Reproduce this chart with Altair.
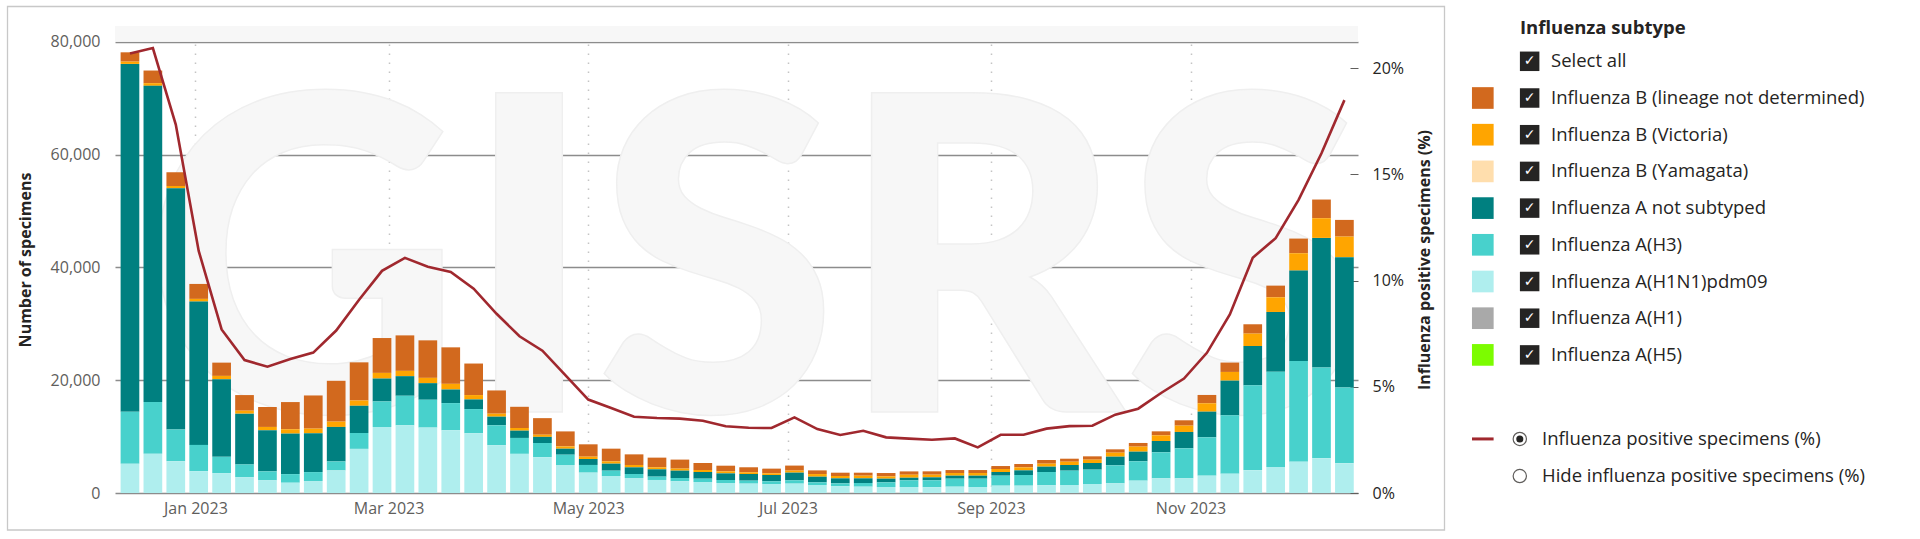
import altair as alt
import pandas as pd

# ---------------- data ----------------
weeks = pd.date_range("2022-12-12", periods=54, freq="7D").strftime("%Y-%m-%d").tolist()

subtypes = [
    "Influenza B (lineage not determined)",
    "Influenza B (Victoria)",
    "Influenza B (Yamagata)",
    "Influenza A not subtyped",
    "Influenza A(H3)",
    "Influenza A(H1N1)pdm09",
    "Influenza A(H1)",
    "Influenza A(H5)",
]
colors = ["#D2691E", "#FFA500", "#FFDEAD", "#008080", "#48D1CC", "#AFEEEE", "#A9A9A9", "#7CFC00"]

b_not_determined = [1650, 2240, 2470, 2650, 2350, 2770, 3530, 4820, 5880, 7240,
                    6760, 6180, 6290, 6650, 6470, 5590, 4120, 3760, 2940, 2660,
                    2190, 2250, 1890, 1710, 1600, 1240, 1000, 890, 830, 890,
                    650, 590, 530, 590, 590, 590, 530, 530, 530, 590,
                    650, 530, 590, 590, 650, 710, 950, 1480, 1660, 1660,
                    2070, 2600, 3310, 2960]
b_victoria = [410, 470, 410, 470, 590, 530, 590, 770, 820, 940,
              940, 1000, 940, 940, 1000, 770, 530, 470, 380, 410,
              410, 410, 410, 360, 360, 360, 360, 300, 300, 360,
              470, 410, 470, 410, 530, 470, 470, 470, 530, 530,
              530, 590, 590, 710, 890, 1000, 1120, 1480, 1540, 2190,
              2600, 3070, 3490, 3660]
b_yamagata = [0] * 54
a_not_subtyped = [61640, 56060, 42760, 25410, 13760, 9000, 7290, 7180, 6880, 6120,
                  4820, 4060, 3470, 2940, 2410, 1710, 1530, 1290, 1090, 1060,
                  1060, 1240, 1180, 1300, 1300, 1180, 1180, 1180, 1120, 1360,
                  1000, 890, 830, 650, 470, 530, 530, 530, 650, 830,
                  950, 1000, 1180, 1540, 1710, 2010, 2900, 4550, 6150, 6970,
                  10580, 16020, 22990, 23110]
a_h3 = [9240, 9180, 5590, 4650, 2880, 2240, 1590, 1530, 1590, 1590,
        2820, 4530, 5240, 4940, 4820, 4290, 3530, 2820, 2500, 1830,
        1360, 950, 710, 590, 590, 590, 530, 530, 470, 590,
        470, 530, 650, 830, 1180, 1240, 1420, 1480, 1770, 1890,
        2360, 2540, 2540, 3190, 3430, 4610, 5320, 6800, 10340, 15070,
        16900, 17850, 16080, 13420]
a_h1n1pdm09 = [5180, 6940, 5650, 3880, 3530, 2820, 2240, 1820, 2120, 4000,
               7820, 11700, 12000, 11590, 11120, 10590, 8470, 6940, 6360, 4960,
               3610, 3010, 2660, 2310, 2070, 1950, 1770, 1660, 1600, 1660,
               1420, 1180, 1120, 1060, 1060, 1010, 1120, 1060, 1300, 1300,
               1360, 1420, 1600, 1710, 2190, 2600, 2600, 3070, 3430, 4020,
               4610, 5560, 6150, 5260]
a_h1 = [0] * 54
a_h5 = [0] * 54

positivity = [20.7, 20.95, 17.35, 11.4, 7.7, 6.26, 5.95, 6.31, 6.61, 7.65,
              9.1, 10.46, 11.07, 10.65, 10.41, 9.62, 8.44, 7.38, 6.7, 5.55,
              4.4, 4.0, 3.59, 3.53, 3.5, 3.4, 3.14, 3.07, 3.06, 3.56,
              3.01, 2.73, 2.93, 2.62, 2.56, 2.51, 2.57, 2.15, 2.74, 2.74,
              3.03, 3.15, 3.17, 3.69, 3.97, 4.71, 5.39, 6.6, 8.41, 11.08,
              12.0, 13.8, 16.0, 18.5]

series = [b_not_determined, b_victoria, b_yamagata, a_not_subtyped, a_h3, a_h1n1pdm09, a_h1, a_h5]

radio_labels = ["Influenza positive specimens (%)", "Hide influenza positive specimens (%)"]

# ---------------- tables ----------------
rows = []
for i, (name, vals) in enumerate(zip(subtypes, series)):
    for w, v in zip(weeks, vals):
        rows.append({"week": w, "subtype": name, "count": v, "stack": len(subtypes) - i})
bars_df = pd.DataFrame(rows)
line_df = pd.DataFrame({"week": weeks, "pct": positivity})

# ---------------- style ----------------
FONT = "Open Sans"
W, H = 1243, 467
YMAX = 82783
PMAX = 21.99
LINE_COLOR = "#a0282e"
TEXT_DARK = "#252423"
TEXT_GRAY = "#605e5c"

x_enc = alt.X(
    "week:T",
    scale=alt.Scale(
        type="utc",
        domain=[alt.DateTime(year=2022, month=12, date=8, hours=23, utc=True),
                alt.DateTime(year=2023, month=12, date=20, hours=15, utc=True)],
    ),
    axis=alt.Axis(
        values=[alt.DateTime(year=2023, month=m, date=1, utc=True) for m in (1, 3, 5, 7, 9, 11)],
        format="%b %Y", title=None, domain=False, ticks=False,
        labelFont=FONT, labelFontSize=16, labelColor=TEXT_GRAY, labelPadding=7,
        grid=True, gridColor="#c4c4c4", gridDash=[1.5, 7.5], gridWidth=1.5,
    ),
)

one = pd.DataFrame({"t": ["GISRS"]})

band = alt.Chart(one).mark_rect(color="#f7f7f7").encode(
    x=alt.value(0), x2=alt.value(W), y=alt.value(0), y2=alt.value(H * (1 - 80000 / YMAX))
)

watermark = alt.Chart(one).mark_text(
    font="Lato", fontWeight=900, fontSize=440,
    align="center", baseline="alphabetic", fill="#f7f7f7", stroke="#efefef", strokeWidth=1.5,
).encode(text="t:N", x=alt.value(640), y=alt.value(386))

bars = alt.Chart(bars_df).mark_bar(width=18.7).encode(
    x=x_enc,
    y=alt.Y(
        "count:Q", stack="zero",
        scale=alt.Scale(domain=[0, YMAX], nice=False),
        axis=alt.Axis(
            values=[0, 20000, 40000, 60000, 80000], format=",.0f",
            domain=False, ticks=False, labelFont=FONT, labelFontSize=16,
            labelColor=TEXT_GRAY, labelPadding=15,
            gridColor="#8c8c8c", gridWidth=1.4,
            title="Number of specimens", titleFont=FONT, titleFontSize=16,
            titleFontWeight="bold", titleColor=TEXT_DARK,
            titleX=-90, titleY=H / 2, titleBaseline="middle", titleAngle=270,
        ),
    ),
    color=alt.Color("subtype:N", scale=alt.Scale(domain=subtypes, range=colors), legend=None),
    order=alt.Order("stack:Q", sort="ascending"),
)

left = alt.layer(band, watermark, bars)

line = alt.Chart(line_df).mark_line(color=LINE_COLOR, strokeWidth=2.6).encode(
    x=alt.X("week:T"),
    y=alt.Y(
        "pct:Q",
        scale=alt.Scale(domain=[0, PMAX], nice=False),
        axis=alt.Axis(
            orient="right", values=[0, 5, 10, 15, 20], labelExpr="datum.value + '%'",
            grid=False, domain=False, ticks=True, tickSize=8, tickColor=TEXT_GRAY,
            offset=-8, labelPadding=14, labelFont=FONT, labelFontSize=16, labelColor=TEXT_DARK,
            title="Influenza positive specimens (%)", titleFont=FONT, titleFontSize=16,
            titleFontWeight="bold", titleColor=TEXT_DARK,
            titleX=74, titleY=H / 2, titleBaseline="middle", titleAngle=270,
        ),
    ),
)

frame = alt.Chart(one).mark_rect(fillOpacity=0, stroke="#c8c8c8", strokeWidth=1.3).encode(
    x=alt.value(-107.5), x2=alt.value(1329.5), y=alt.value(-19.5), y2=alt.value(504)
)

main = alt.layer(left, line, frame).resolve_scale(y="independent").properties(width=W, height=H)

# ---------------- legend ----------------
LEG_H = 497
ROW0, STEP = 35.3, 36.7
r_top = -ROW0 / STEP
Y_r = alt.Y("r:Q", scale=alt.Scale(domain=[r_top, r_top + LEG_H / STEP], reverse=True, nice=False, zero=False),
            axis=None)

n = len(subtypes)
title_df = pd.DataFrame({"label": ["Influenza subtype"], "r": [-0.894]})
check_df = pd.DataFrame({"label": ["Select all"] + subtypes, "r": list(range(n + 1))})
sub_df = pd.DataFrame({"label": subtypes, "r": list(range(1, n + 1))})
radio_df = pd.DataFrame({"label": radio_labels, "r": [n + 2.29, n + 3.3]})

leg_title = alt.Chart(title_df).mark_text(
    align="left", baseline="middle", font=FONT, fontSize=18.5, fontWeight="bold", color=TEXT_DARK
).encode(x=alt.value(48), y=Y_r, text="label:N")

boxes = alt.Chart(check_df).mark_square(size=380, color=TEXT_DARK, opacity=1).encode(x=alt.value(57.65), y=Y_r)
checks = alt.Chart(check_df).mark_text(
    text="✓", font="DejaVu Sans", fontSize=14, color="white", align="center", baseline="middle"
).encode(x=alt.value(57.65), y=Y_r)
labels = alt.Chart(check_df).mark_text(
    align="left", baseline="middle", font=FONT, fontSize=18.5, color=TEXT_DARK
).encode(x=alt.value(79), y=Y_r, text="label:N")

swatches = alt.Chart(sub_df).mark_square(size=470, opacity=1).encode(
    x=alt.value(10.8), y=Y_r,
    color=alt.Color("label:N", scale=alt.Scale(domain=subtypes, range=colors), legend=None),
)

line_swatch = alt.Chart(radio_df.iloc[:1]).mark_rule(color=LINE_COLOR, strokeWidth=3).encode(
    x=alt.value(0), x2=alt.value(21.6), y=Y_r
)
radios = alt.Chart(radio_df).mark_point(
    shape="circle", size=177, fill="white", fillOpacity=1, stroke=TEXT_GRAY, strokeWidth=1.2, opacity=1
).encode(x=alt.value(47.8), y=Y_r)
radio_dot = alt.Chart(radio_df.iloc[:1]).mark_circle(size=50, color=TEXT_DARK, opacity=1).encode(
    x=alt.value(47.8), y=Y_r
)
radio_text = alt.Chart(radio_df).mark_text(
    align="left", baseline="middle", font=FONT, fontSize=18.5, color=TEXT_DARK
).encode(x=alt.value(70), y=Y_r, text="label:N")

legend = alt.layer(
    leg_title, swatches, boxes, checks, labels, line_swatch, radios, radio_dot, radio_text
).properties(width=400, height=LEG_H)

chart = (
    alt.hconcat(main, legend, spacing=24)
    .properties(padding={"left": 6, "top": 5, "right": 5, "bottom": 5}, background="white")
    .configure(font=FONT)
    .configure_view(stroke="transparent")
)

chart.save("out.html", embed_options={"renderer": "svg", "actions": False})
